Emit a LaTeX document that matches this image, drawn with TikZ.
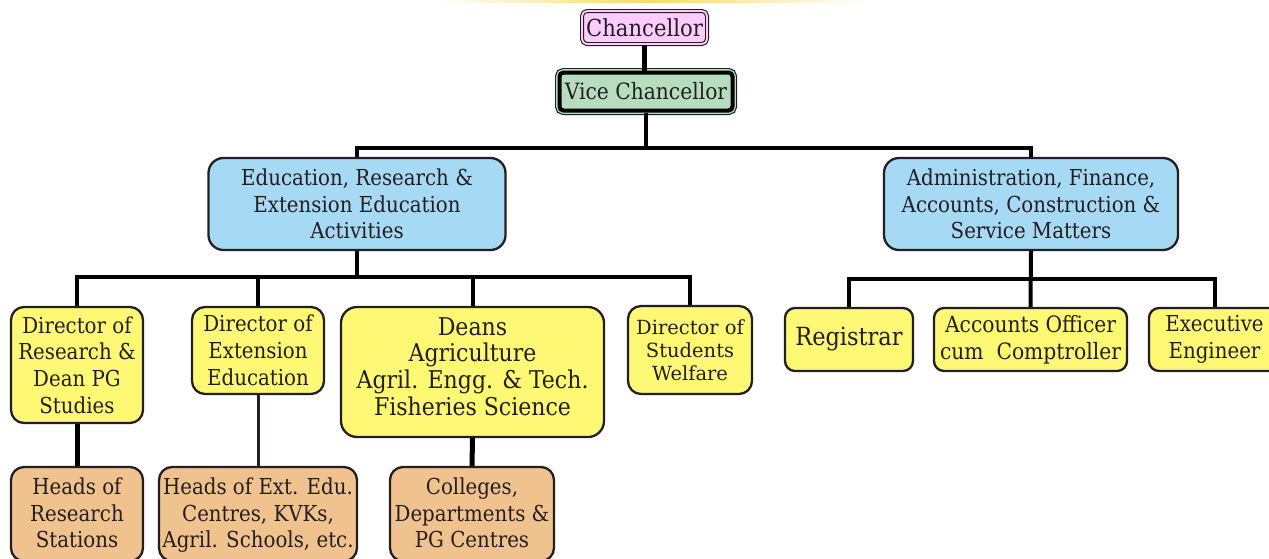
\documentclass[tikz,border=0pt]{standalone}
\usepackage{fontspec}
\setmainfont{DejaVu Serif Condensed}
\newfontfamily\widefont{DejaVu Serif}
\usetikzlibrary{calc}
\definecolor{bd}{HTML}{231F20}
\definecolor{pinkc}{HTML}{FFCCFF}
\definecolor{greenc}{HTML}{B5DDBE}
\definecolor{bluec}{HTML}{A6D9F4}
\definecolor{yelc}{HTML}{FFF875}
\definecolor{orac}{HTML}{EFC28E}
\definecolor{bandc}{HTML}{F9D96A}
\newcommand{\liftlines}[2]{\raisebox{#1}[\height][\depth]{\begin{tabular}{@{}c@{}}#2\end{tabular}}}
\begin{document}
\begin{tikzpicture}[x=1pt,y=-1pt,
  box/.style={draw=bd, line width=2.3pt, rounded corners=13pt, align=center, inner sep=0pt, text=bd},
  bluebox/.style={box, fill=bluec, rounded corners=15pt, font=\fontsize{22}{26.5}\selectfont},
  ybox/.style={box, fill=yelc, font=\fontsize{22}{26.8}\selectfont},
  obox/.style={box, fill=orac, font=\fontsize{22}{26.5}\selectfont},
  conn/.style={draw=black, line width=4pt},
  thinconn/.style={draw=bd, line width=3pt}]
\useasboundingbox (0,0) rectangle (1269,558);
\clip (0,0) rectangle (1269,558);
% top band
\shade[left color=white, right color=white, middle color=bandc] (434,0) rectangle (866,2.5);

% top nodes
\node[draw=bd, line width=1.1pt, double=pinkc, double distance=1.8pt, fill=pinkc,
      rounded corners=5pt, minimum width=125, minimum height=33, inner sep=0pt,
      text=bd, font=\fontsize{23.5}{28}\selectfont] (chan) at (644.5,27.5) {Chancellor};
\node[preaction={draw=bd, line width=9pt}, preaction={draw=greenc, line width=6.6pt},
      draw=black, line width=4pt, fill=greenc, rounded corners=4pt,
      minimum width=173, minimum height=38, inner sep=0pt,
      text=bd, font=\fontsize{22.5}{28}\selectfont] (vc) at (646,91.5) {Vice Chancellor};

\node[bluebox, minimum width=297, minimum height=92] (erl) at (357,204) {Education, Research \&\\Extension Education\\Activities};
\node[bluebox, minimum width=294, minimum height=92] (afc) at (1031,204) {Administration, Finance,\\Accounts, Construction \&\\Service Matters};

% yellow boxes
\node[ybox, minimum width=132, minimum height=116] (dor) at (77,365) {Director of\\Research \&\\Dean PG\\Studies};
\node[ybox, minimum width=132, minimum height=87] (doe) at (258,350.5) {Director of\\Extension\\Education};
\node[ybox, rounded corners=16pt, minimum width=263, minimum height=130, font=\fontsize{24.5}{26.9}\selectfont] (deans) at (472.5,372) {\liftlines{2pt}{Deans\\Agriculture\\Agril. Engg. \& Tech.\\Fisheries Science}};
\node[ybox, minimum width=124, minimum height=88, font=\widefont\fontsize{19.5}{23}\selectfont] (dsw) at (690,350) {Director of\\Students\\Welfare};
\node[ybox, rounded corners=10pt, minimum width=128, minimum height=63, font=\fontsize{25}{28}\selectfont] (reg) at (849,339.5) {Registrar};
\node[ybox, rounded corners=10pt, minimum width=193, minimum height=63, font=\fontsize{22.5}{27}\selectfont] (ao) at (1030.5,339.5) {Accounts Officer\\cum~~Comptroller};
\node[ybox, rounded corners=10pt, minimum width=131, minimum height=63, font=\fontsize{22}{27}\selectfont] (ee) at (1214.5,339.5) {Executive\\Engineer};

% orange boxes
\node[obox, minimum width=132, minimum height=94] (hrs) at (77,514) {\liftlines{-2pt}{Heads of\\Research\\Stations}};
\node[obox, minimum width=198, minimum height=94] (hee) at (258,514) {\liftlines{-2pt}{Heads of Ext. Edu.\\Centres, KVKs,\\Agril. Schools, etc.}};
\node[obox, minimum width=164, minimum height=94] (col) at (472,514) {\liftlines{-2pt}{Colleges,\\Departments \&\\PG Centres}};

% connectors
\coordinate (bus1) at (646,148);
\coordinate (bus2) at (357,277);
\coordinate (bus3) at (1031,279);
\draw[conn, line width=5pt] (chan.south) -- (chan.south |- vc.north);
\draw[conn] (vc.south) -- (bus1);
\draw[conn] (erl.north) |- (bus1) -| (afc.north);
\draw[conn] (erl.south) -- (bus2);
\draw[conn] (dor.north) |- (bus2) -| (dsw.north);
\draw[conn] (doe.north) -- (doe.north |- bus2);
\draw[conn] (deans.north) -- (deans.north |- bus2);
\draw[conn] (afc.south) -- (ao.north);
\draw[conn] (reg.north) |- (bus3) -| (ee.north);
\draw[conn, line width=5pt] (dor.south) -- (hrs.north);
\draw[thinconn] (doe.south) -- (hee.north);
\draw[conn, line width=5pt] (deans.south) -- (col.north);
\end{tikzpicture}
\end{document}
